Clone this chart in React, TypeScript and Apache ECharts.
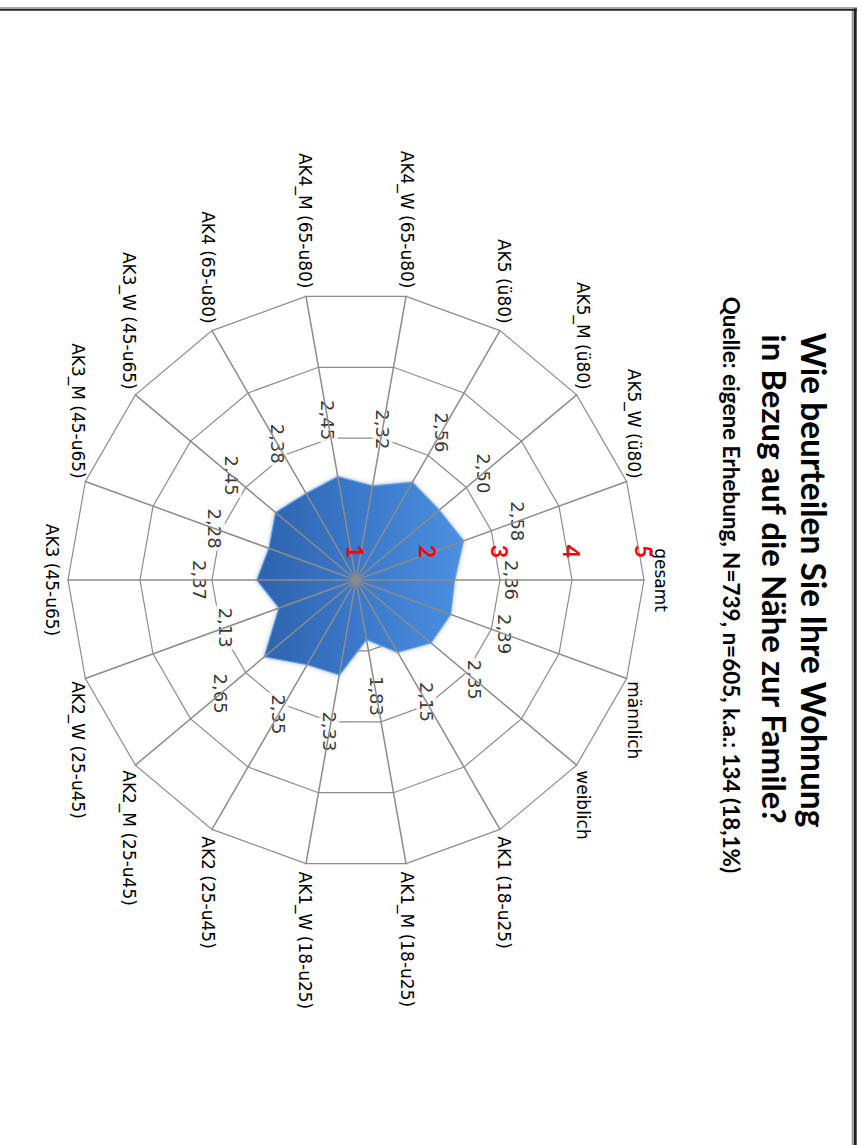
import React, { useEffect, useRef } from 'react';
import * as echarts from 'echarts';

// Categories in clockwise order, starting at "gesamt"
const categories = [
  'gesamt',
  'männlich',
  'weiblich',
  'AK1 (18-u25)',
  'AK1_M (18-u25)',
  'AK1_W (18-u25)',
  'AK2 (25-u45)',
  'AK2_M (25-u45)',
  'AK2_W (25-u45)',
  'AK3 (45-u65)',
  'AK3_M (45-u65)',
  'AK3_W (45-u65)',
  'AK4 (65-u80)',
  'AK4_M (65-u80)',
  'AK4_W (65-u80)',
  'AK5 (ü80)',
  'AK5_M (ü80)',
  'AK5_W (ü80)',
];
const values = [2.36, 2.39, 2.35, 2.15, 1.83, 2.33, 2.35, 2.65, 2.13, 2.37, 2.28, 2.45, 2.38, 2.45, 2.32, 2.56, 2.5, 2.58];
const scaleMin = 1;
const scaleMax = 5;
const scaleSplits = 4;
const titleLines = ['Wie beurteilen Sie Ihre Wohnung', 'in Bezug auf die Nähe zur Famile?'];
const subtitle = 'Quelle: eigene Erhebung, N=739, n=605, k.a.: 134 (18,1%)';

// layout (unrotated frame, chart is rotated 90° clockwise afterwards)
const W = 1145;
const H = 863;
const CX = 580;
const CY = 507;
const R = 288;
const LABEL_GAP = 58;

const fmt = (v: number) => v.toFixed(2).replace('.', ',');

export default function App() {
  const ref = useRef<HTMLDivElement>(null);
  useEffect(() => {
    const chart = echarts.init(ref.current!, null, { renderer: 'svg' });
    const n = categories.length;
    // ECharts radar lays out indicators counter-clockwise: reverse after the first
    const radarOrder = [0, ...categories.map((_, i) => n - 1 - i).slice(0, n - 1)];

    const option: any = {
      animation: false,
      backgroundColor: '#fff',
      radar: [
        {
          z: 1,
          center: [CX, CY],
          radius: R,
          startAngle: 90,
          shape: 'polygon',
          splitNumber: scaleSplits,
          axisNameGap: 8,
          axisName: { color: '#000', fontSize: 17, fontFamily: 'DejaVu Sans' },
          axisLine: { show: false },
          axisTick: { show: false },
          axisLabel: { show: false },
          splitArea: { show: false },
          splitLine: { lineStyle: { color: '#8c8c8c', width: 1.2 } },
          indicator: radarOrder.map((i) => ({ name: categories[i], min: scaleMin, max: scaleMax })),
        },
        {
          z: 5,
          center: [CX, CY],
          radius: R,
          startAngle: 90,
          shape: 'polygon',
          splitNumber: scaleSplits,
          axisName: { show: false },
          axisLine: { show: true, lineStyle: { color: '#8c8c8c', width: 1.5 } },
          axisTick: { show: false },
          axisLabel: {
            show: false,
            color: '#ff0000',
            fontSize: 23,
            fontWeight: 'bold',
            fontFamily: 'Lato',
            margin: 22,
          },
          splitArea: { show: false },
          splitLine: { show: false },
          indicator: radarOrder.map((i, k) =>
            k === 0
              ? { name: '', min: scaleMin, max: scaleMax, axisLabel: { show: true } }
              : { name: '', min: scaleMin, max: scaleMax }
          ),
        },
      ],
      polar: { center: [CX, CY], radius: R },
      angleAxis: {
        type: 'category',
        data: categories,
        startAngle: 90,
        clockwise: true,
        boundaryGap: false,
        show: false,
      },
      radiusAxis: { min: scaleMin, max: scaleMax, show: false },
      series: [
        {
          type: 'radar',
          radarIndex: 0,
          z: 2,
          symbol: 'none',
          silent: true,
          lineStyle: { color: '#62a4ef', width: 2.5, shadowColor: 'rgba(0,0,0,0.3)', shadowBlur: 4 },
          areaStyle: {
            opacity: 1,
            color: new echarts.graphic.LinearGradient(0, 0, 0, 1, [
              { offset: 0, color: '#4b8fe0' },
              { offset: 0.5, color: '#3b79ca' },
              { offset: 1, color: '#2e62ad' },
            ]),
          },
          data: [{ value: radarOrder.map((i) => values[i]) }],
        },
        {
          type: 'scatter',
          coordinateSystem: 'polar',
          z: 4,
          silent: true,
          symbolSize: 1,
          itemStyle: { color: 'rgba(0,0,0,0)' },
          label: {
            show: true,
            position: 'inside',
            color: '#000',
            fontSize: 18,
            fontFamily: 'DejaVu Sans',
            backgroundColor: '#fff',
            padding: [1, 2],
            formatter: (p: any) => fmt(p.value[0]),
          },
          data: categories.map((c, i) => {
            const a = (i * 2 * Math.PI) / n;
            return {
              value: [values[i], c],
              label: { offset: [LABEL_GAP * Math.sin(a), -LABEL_GAP * Math.cos(a)] },
            };
          }),
        },
      ],
      graphic: [
        {
          type: 'text',
          x: 580,
          y: 49,
          style: {
            text: titleLines[0],
            fontSize: 33.5,
            fontWeight: 'bold',
            fontFamily: 'Lato',
            fill: '#000',
            align: 'center',
            verticalAlign: 'middle',
          },
        },
        {
          type: 'text',
          x: 579,
          y: 88,
          style: {
            text: titleLines[1],
            fontSize: 33,
            fontWeight: 'bold',
            fontFamily: 'Lato',
            fill: '#000',
            align: 'center',
            verticalAlign: 'middle',
          },
        },
        {
          type: 'text',
          x: 585,
          y: 132,
          style: {
            text: subtitle,
            fontSize: 22.5,
            fontWeight: 'bold',
            fontFamily: 'Lato',
            fill: '#000',
            align: 'center',
            verticalAlign: 'middle',
          },
        },
        {
          type: 'line',
          z: 100,
          shape: { x1: 8, y1: 7.8, x2: W, y2: 7.8 },
          style: { stroke: '#222', lineWidth: 3 },
        },
        {
          type: 'line',
          z: 100,
          shape: { x1: 10, y1: 10.3, x2: W, y2: 10.3 },
          style: { stroke: '#9a9a9a', lineWidth: 2 },
        },
        {
          type: 'line',
          z: 100,
          shape: { x1: 7.8, y1: 6, x2: 7.8, y2: H },
          style: { stroke: '#aaa', lineWidth: 1.5 },
        },
        {
          type: 'line',
          z: 100,
          shape: { x1: 9.7, y1: 6, x2: 9.7, y2: H },
          style: { stroke: '#222', lineWidth: 2 },
        },
      ],
    };
    chart.setOption(option);
    return () => chart.dispose();
  }, []);

  return (
    <div style={{ position: 'absolute', left: 0, top: 0, width: 863, height: 1145, overflow: 'hidden', background: '#fff' }}>
      <div
        ref={ref}
        style={{
          position: 'absolute',
          left: 0,
          top: 0,
          width: W,
          height: H,
          transformOrigin: '0 0',
          transform: `translate(${H}px, 0px) rotate(90deg)`,
        }}
      />
    </div>
  );
}
